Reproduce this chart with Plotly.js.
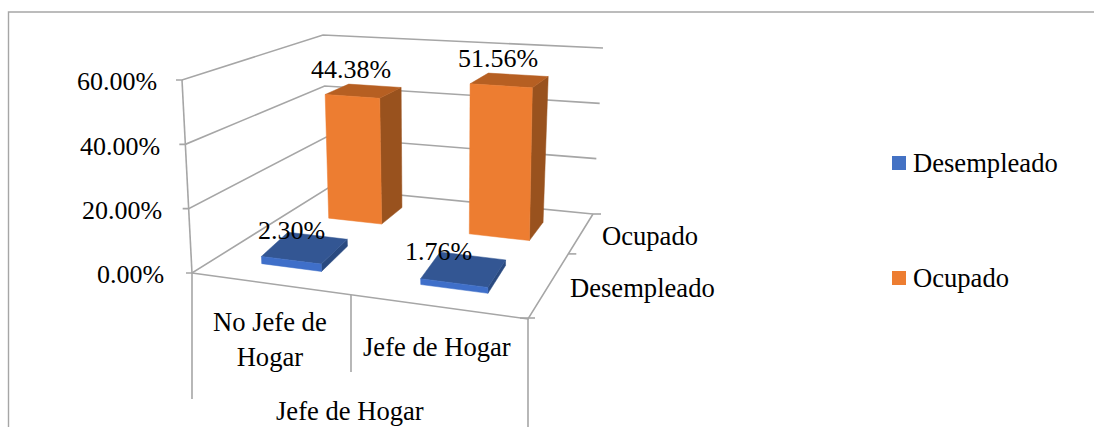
<!DOCTYPE html>
<html><head><meta charset="utf-8">
<script src="https://cdn.plot.ly/plotly-3.0.1.min.js"></script>
<style>html,body{margin:0;padding:0;background:#fff}#c{width:1094px;height:427px}</style>
</head><body><div id="c"></div>
<script>
// ---- data ----
const categories = ['No Jefe de<br>Hogar', 'Jefe de Hogar'];
const groupTitle = 'Jefe de Hogar';
const seriesNames = ['Desempleado', 'Ocupado'];
const desempleado = [2.30, 1.76];
const ocupado = [44.38, 51.56];
const valueTicks = [0, 20, 40, 60];
const tickLabels = ['0.00%', '20.00%', '40.00%', '60.00%'];
// ---- 3D frame in page pixels ----
const zMax = 60;
const floor = {fl:[192,273], fr:[528,319], br:[593,214], bl:[328,188]};
const roof  = {fl:[182,80],  fr:[522,106], br:[603,48],  bl:[323,35]};
const catU = [[[0.14,0.325],[0.632,0.84]],[[0.145,0.33],[0.636,0.846]]];
const catUBack = [[[0.115,0.31],[0.615,0.83]],[[0.145,0.33],[0.636,0.846]]];
const rowV = [[0.18,0.45],[0.70,0.88]];
const faces = [
  {front:'#3F6FC9', top:'#335693', side:'#2A4A80'},
  {front:'#ED7D31', top:'#B65F22', side:'#99521E'}
];
const LINE = '#A6A6A6', FONT = 'Liberation Serif, Times New Roman, serif', FS = 26, FS2 = 26.6;

function lerp(a,b,t){return [a[0]+(b[0]-a[0])*t, a[1]+(b[1]-a[1])*t];}
function proj(u,v,z){
  const q = c => lerp(lerp(c.fl,c.fr,u), lerp(c.bl,c.br,u), v);
  return lerp(q(floor), q(roof), z/zMax);
}
const traces = [];
function line(pts,w){
  traces.push({type:'scatter',mode:'lines',x:pts.map(p=>p[0]),y:pts.map(p=>p[1]),
    line:{color:LINE,width:w||1.6},hoverinfo:'skip',showlegend:false});
}
function poly(pts,color){
  const c = pts.concat([pts[0]]);
  traces.push({type:'scatter',mode:'lines',x:c.map(p=>p[0]),y:c.map(p=>p[1]),fill:'toself',
    fillcolor:color,line:{color:color,width:0.5},hoverinfo:'skip',showlegend:false});
}
// chart border
line([[8.5,427],[8.5,12],[1094,12]],1.4);
// walls and grid
valueTicks.forEach(t=>{
  const a=proj(0,0,t), b=proj(0,1,t), c=proj(1,1,t);
  line([[a[0]-6,a[1]],a,b,c]);
});
line([proj(0,0,0),proj(0,0,zMax)]);
const br0=proj(1,1,0); line([br0,[br0[0]+8,br0[1]]]);
// floor front and side edges, axis dividers
line([proj(0,0,0),proj(1,0,0),proj(1,1,0)]);
line([[192,273],[192,399]]);
line([[351,295],[351,372]]);
line([[528,319],[528,427]]);
line([[520,318],[535,318]]);
const mid=proj(1,0.62,0); line([mid,[mid[0]+8,mid[1]]]);
// bars, back row first
[ocupado,desempleado].forEach((vals,i)=>{
  const s = i===0?1:0, [v0,v1]=rowV[s], f=faces[s];
  vals.forEach((val,k)=>{
    const [u0,u1]=catU[s][k], [b0,b1]=catUBack[s][k];
    poly([proj(u1,v0,0),proj(b1,v1,0),proj(b1,v1,val),proj(u1,v0,val)],f.side);
    poly([proj(u0,v0,val),proj(u1,v0,val),proj(b1,v1,val),proj(b0,v1,val)],f.top);
    poly([proj(u0,v0,0),proj(u1,v0,0),proj(u1,v0,val),proj(u0,v0,val)],f.front);
  });
});
// legend squares
const legendX = 899, legendY = [163, 278];
seriesNames.forEach((n,i)=>traces.push({type:'scatter',mode:'markers',x:[legendX],y:[legendY[i]],name:n,
  hoverinfo:'skip',showlegend:false,marker:{symbol:'square',size:14,color:i===0?'#4472C4':faces[i].front}}));

function txt(x,y,text,anchor,size){
  return {x,y,text,xref:'x',yref:'y',showarrow:false,xanchor:anchor||'center',yanchor:'middle',
    align:'center',font:{family:FONT,size:size||FS,color:'#000'}};
}
const fmt=v=>v.toFixed(2)+'%';
const annotations=[
  txt(166,274,tickLabels[0],'right'),txt(164,210,tickLabels[1],'right'),
  txt(162,146,tickLabels[2],'right'),txt(159,81,tickLabels[3],'right'),
  txt(270,339,categories[0],'center',FS2),txt(437,347,categories[1],'center',FS2),
  txt(350,411,groupTitle,'center',FS2),
  txt(650,236,seriesNames[1],'center',FS2),txt(642,288,seriesNames[0],'center',FS2),
  txt(351,69,fmt(ocupado[0])),txt(498,58,fmt(ocupado[1])),
  txt(291,230,fmt(desempleado[0])),txt(438,251,fmt(desempleado[1])),
  txt(911,163,seriesNames[0],'left',FS2),txt(911,278,seriesNames[1],'left',FS2)
];
Plotly.newPlot('c',traces,{
  width:1094,height:427,margin:{l:0,r:0,t:0,b:0},paper_bgcolor:'#fff',plot_bgcolor:'#fff',
  xaxis:{range:[0,1094],visible:false,fixedrange:true},
  yaxis:{range:[427,0],visible:false,fixedrange:true},
  annotations,showlegend:false
},{displayModeBar:false,staticPlot:true});
</script></body></html>
